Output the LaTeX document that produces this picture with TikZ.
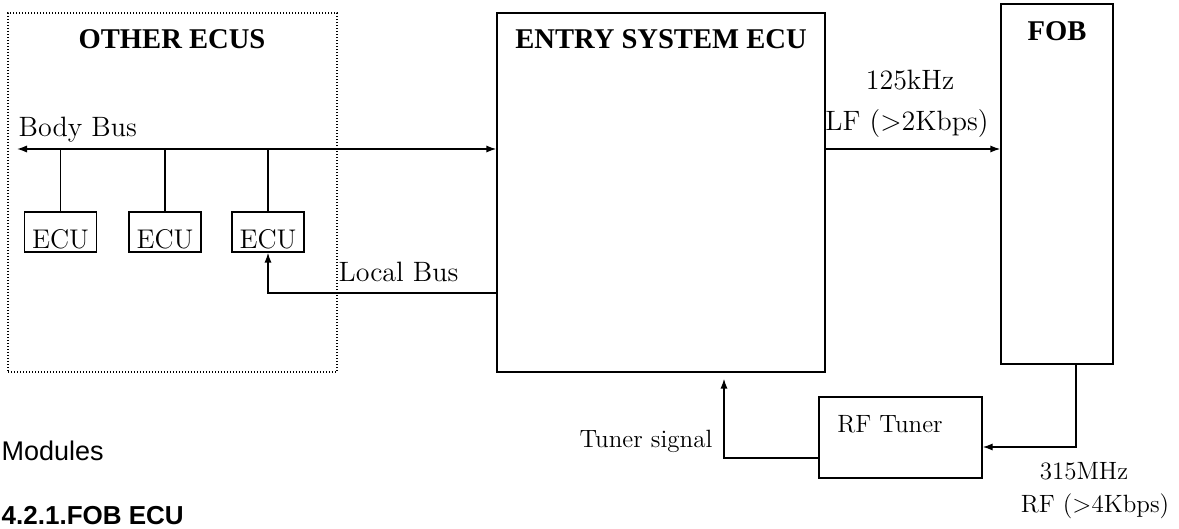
\documentclass[tikz,border=0pt]{standalone}
\usepackage{fontspec}
\newfontfamily\arialfont{Liberation Sans}
\newfontfamily\titlefont{Liberation Serif}
\usetikzlibrary{arrows.meta}
\tikzset{
  blk/.style={draw,inner sep=0pt},
  txt/.style={inner sep=0pt,font=\fontsize{14}{16}\selectfont},
  stxt/.style={inner sep=0pt,font=\fontsize{12.5}{15}\selectfont},
  ttl/.style={inner sep=0pt,font=\titlefont\bfseries\fontsize{14.3}{16}\selectfont},
  ecubox/.style={blk,minimum width=36pt,minimum height=20pt,text height=17pt,text depth=0pt,font=\fontsize{13.5}{16}\selectfont},
}

\begin{document}
\begin{tikzpicture}[x=0.5pt,y=-0.5pt,line width=0.7pt,>={Latex[length=5pt,width=3.6pt]}]
\useasboundingbox (0,0) rectangle (1179,529);
\node[blk,line width=0.6pt,dash pattern=on 0.6pt off 0.9pt,minimum width=164.5pt,minimum height=179.5pt] (oth) at (172.5,192.5) {};
\node[blk,minimum width=164pt,minimum height=179.5pt] (ent) at (661,192.5) {};
\node[blk,minimum width=56pt,minimum height=180pt] (fob) at (1057,184) {};
\node[blk,minimum width=81.5pt,minimum height=40.5pt] (rft) at (900.5,437.5) {};
\foreach \n/\x in {1/60.5,2/165,3/268}
  \node[ecubox] (ecu\n) at (\x,232) {ECU};

\node[ttl] (othT) at (172,39) {OTHER ECUS};
\node[ttl] (entT) at (661,39) {ENTRY SYSTEM ECU};
\node[ttl] (fobT) at (1057,31) {FOB};
\node[stxt,anchor=base] (rftT) at (890,433) {RF Tuner};

\coordinate (bl) at (17,149);
\draw[<->] (bl) -- (bl -| ent.west);
\node[txt,anchor=base west] (bb) at (18,137) {Body Bus};
\foreach \n in {1,2,3}
  \draw (ecu\n.north) -- (ecu\n.north |- bl);
\draw[->] (ent.west |- 0,293) -| (ecu3.south);
\node[txt,anchor=base west] (lb) at (338,282) {Local Bus};

\draw[->] (bl -| ent.east) -- (bl -| fob.west);
\node[txt,anchor=base] (lf1) at (910,90) {125kHz};
\node[txt,anchor=base] (lf2) at (907,131) {LF (>2Kbps)};

\draw[->] ([xshift=9.5pt]fob.south) |- ([yshift=-4.75pt]rft.east);
\node[stxt,anchor=base] (rf1) at (1084,480) {315MHz};
\node[stxt,anchor=base] (rf2) at (1095,512) {RF (>4Kbps)};
\draw[->] ([yshift=-10.25pt]rft.west) -| ([xshift=31.5pt,yshift=-3pt]ent.south);
\node[stxt,anchor=base east] (ts) at (713,447) {Tuner signal};

\node[inner sep=0pt,anchor=base west,font=\arialfont\fontsize{13.5}{16}\selectfont] (mod) at (1,460) {Modules};
\node[inner sep=0pt,anchor=base west,font=\arialfont\bfseries\fontsize{13}{15}\selectfont] (hd) at (1,524) {4.2.1.FOB ECU};
\end{tikzpicture}
\end{document}
